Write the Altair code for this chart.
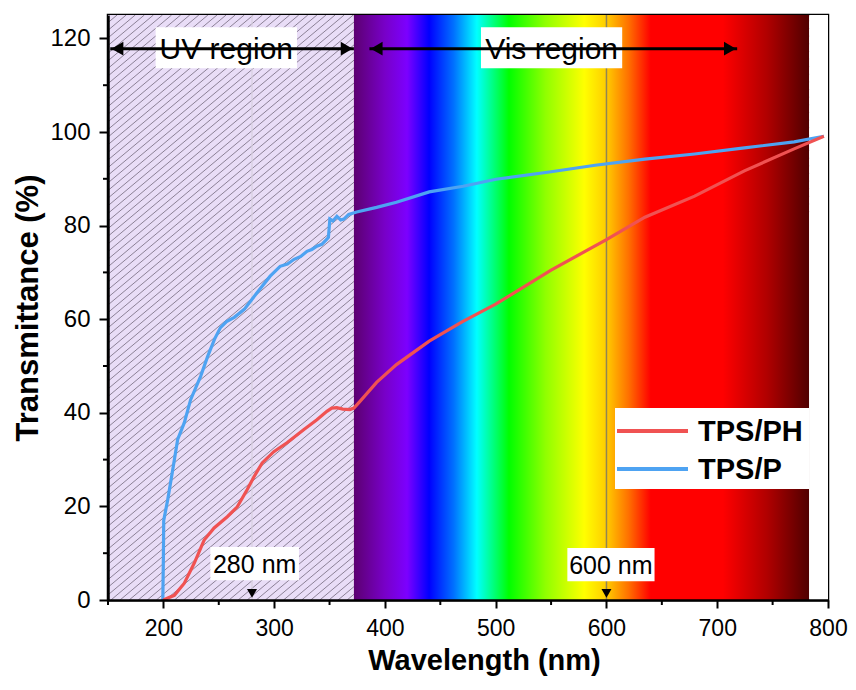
import altair as alt
import pandas as pd
import numpy as np

# ---------------- data ----------------
wl_tpsp = [199.5, 200.0, 200.3, 203.9, 208.4, 212.9, 218.9, 224.6, 233.6, 239.9, 246.1, 251.5, 257.0,
           264.0, 273.0, 284.7, 296.4, 305.4, 312.0, 318.0, 324.0, 329.6, 334.0, 338.6, 343.0, 347.6,
           349.0, 350.3, 353.0, 356.6, 360.0, 362.9, 367.3, 374.5, 392.5, 410.4, 440.0, 470.6, 500.2,
           550.0, 589.8, 634.7, 679.6, 724.5, 769.4, 796.3]
tr_tpsp = [0.0, 9.0, 17.0, 21.4, 27.8, 34.3, 37.9, 42.8, 47.8, 52.0, 55.7, 58.2, 59.5,
           60.4, 62.1, 65.7, 69.2, 71.3, 71.8, 72.8, 73.4, 74.5, 74.9, 75.6, 76.0, 77.1,
           77.5, 81.4, 81.0, 82.0, 81.2, 81.4, 82.4, 82.9, 83.9, 85.0, 87.2, 88.4, 89.9,
           91.5, 92.9, 94.2, 95.3, 96.6, 97.9, 99.1]

wl_tpsph = [200.0, 203.0, 209.9, 218.9, 227.9, 236.8, 245.8, 257.7, 266.7, 275.7, 281.7, 289.2,
            299.7, 311.6, 326.6, 338.6, 347.6, 352.0, 356.6, 362.0, 368.3, 372.0, 377.3, 392.5,
            410.4, 440.0, 470.0, 500.0, 550.0, 600.0, 634.7, 679.6, 724.5, 769.4, 796.3]
tr_tpsph = [0.0, 0.3, 1.0, 3.6, 7.9, 12.8, 15.4, 17.8, 19.9, 23.6, 26.3, 29.3,
            31.7, 33.6, 36.4, 38.5, 40.3, 41.0, 41.1, 40.8, 40.7, 41.0, 42.4, 46.5,
            50.3, 55.3, 59.5, 63.2, 70.5, 77.0, 81.8, 86.3, 91.7, 96.4, 99.1]

series_names = ["TPS/PH", "TPS/P"]
series_colors = ["#f05252", "#4ea3f2"]

x_ticks_major = [200, 300, 400, 500, 600, 700, 800]
x_ticks_minor = [150, 250, 350, 450, 550, 650, 750]
y_ticks_major = [0, 20, 40, 60, 80, 100, 120]
y_ticks_minor = [10, 30, 50, 70, 90, 110]

uv_range = [150, 372]
vis_range = [372, 783]

spectrum_wl = [372, 400, 420, 440, 462, 483, 505, 512, 545, 580, 600, 620, 640, 705, 745, 783]
spectrum_col = ["#5c0070", "#7800c8", "#7c00ff", "#0000ff", "#0070ff", "#00ffff", "#00ff40",
                "#00ff00", "#90ff00", "#ffff00", "#ffcc00", "#ff7000", "#ff0000", "#ff0000",
                "#b00000", "#500000"]

region_labels = ["UV region", "Vis region"]
region_label_x = [256.8, 550.5]
region_box_x = [193.0, 486.7]
region_box_x2 = [320.6, 614.2]
region_arrow_from = [152.0, 386.0]
region_arrow_to = [372.0, 718.0]
region_y = 117.8

marker_wl = [280, 600]
marker_labels = ["280 nm", "600 nm"]
marker_label_x = [282.4, 604.0]
marker_box_x = [242.4, 564.7]
marker_box_x2 = [322.4, 643.4]

# ---------------- layout ----------------
W, H = 720, 585
XD = [150, 800]
YD = [0, 125]
FONT = "Liberation Sans"

xs = alt.Scale(domain=XD, nice=False, zero=False)
ys = alt.Scale(domain=YD, nice=False, zero=False)

x_axis = alt.Axis(values=x_ticks_major, title="Wavelength (nm)", grid=False, zindex=1,
                  tickSize=8, tickWidth=2, tickColor="black", domainColor="black", domainWidth=2.5,
                  labelFont=FONT, labelFontSize=23, labelColor="black", labelPadding=9,
                  labelFlush=False, labelOverlap=False,
                  titleFont=FONT, titleFontSize=29, titleFontWeight="bold", titleColor="black",
                  titleX=376, titleY=60, titleAlign="center", titleBaseline="middle")
y_axis = alt.Axis(values=y_ticks_major, title="Transmittance (%)", grid=False, zindex=1,
                  tickSize=9, tickWidth=2, tickColor="black", domainColor="black", domainWidth=2.5,
                  labelFont=FONT, labelFontSize=24, labelColor="black", labelPadding=9,
                  labelFlush=False, labelOverlap=False,
                  titleFont=FONT, titleFontSize=31, titleFontWeight="bold", titleColor="black",
                  titleX=-80, titleY=H / 2, titleAngle=270, titleAlign="center", titleBaseline="middle")


def xe(field):
    return alt.X(field, type="quantitative", scale=xs, axis=x_axis)


def ye(field):
    return alt.Y(field, type="quantitative", scale=ys, axis=y_axis)


# UV background
uv_df = pd.DataFrame({"x": [uv_range[0]], "x2": [uv_range[1]], "y": [YD[0]], "y2": [YD[1]]})
uv_bg = alt.Chart(uv_df).mark_rect(color="#e9ddf7").encode(
    x=xe("x"), x2="x2:Q", y=ye("y"), y2="y2:Q")

# hatching (decorative)
slope = 0.84
dx_nm = (H / slope) / (W / (XD[1] - XD[0]))
starts = np.arange(uv_range[0] - dx_nm, uv_range[1], 8.2)
hatch_df = pd.DataFrame({"x": starts, "x2": starts + dx_nm, "y": YD[0], "y2": YD[1]})
hatch = alt.Chart(hatch_df).mark_rule(color="#8c8196", strokeWidth=1, clip=True).encode(
    x=xe("x"), x2="x2:Q", y=ye("y"), y2="y2:Q")

# spectrum
span = vis_range[1] - vis_range[0]
grad = {"gradient": "linear", "x1": 0, "x2": 1, "y1": 0, "y2": 0,
        "stops": [{"offset": (w - vis_range[0]) / span, "color": c}
                  for w, c in zip(spectrum_wl, spectrum_col)]}
spec_df = pd.DataFrame({"x": [vis_range[0]], "x2": [vis_range[1]], "y": [YD[0]], "y2": [YD[1]]})
spec = alt.Chart(spec_df).mark_rect(fill=grad).encode(
    x=xe("x"), x2="x2:Q", y=ye("y"), y2="y2:Q")

white_df = pd.DataFrame({"x": [vis_range[1]], "x2": [XD[1]], "y": [YD[0]], "y2": [YD[1]]})
white = alt.Chart(white_df).mark_rect(color="white").encode(
    x=xe("x"), x2="x2:Q", y=ye("y"), y2="y2:Q")

# vertical marker lines
v280 = alt.Chart(pd.DataFrame({"x": [marker_wl[0]]})).mark_rule(
    color="#d8d0e0", strokeWidth=1.2).encode(x=xe("x"))
v600 = alt.Chart(pd.DataFrame({"x": [marker_wl[1]]})).mark_rule(
    color="#6e6e6e", strokeWidth=1.5, opacity=0.75).encode(x=xe("x"))

# arrows
arr_df = pd.DataFrame({"x": region_arrow_from, "x2": region_arrow_to, "y": [region_y] * 2})
arrows = alt.Chart(arr_df).mark_rule(color="black", strokeWidth=3).encode(
    x=xe("x"), x2="x2:Q", y=ye("y"))
head_l = alt.Chart(pd.DataFrame({"x": [a + 6.5 for a in region_arrow_from], "y": [region_y] * 2})).mark_point(
    shape="triangle-left", filled=True, color="black", size=190, opacity=1).encode(x=xe("x"), y=ye("y"))
head_r = alt.Chart(pd.DataFrame({"x": [a - 6.5 for a in region_arrow_to], "y": [region_y] * 2})).mark_point(
    shape="triangle-right", filled=True, color="black", size=190, opacity=1).encode(x=xe("x"), y=ye("y"))

# label boxes
box_df = pd.DataFrame({
    "x": region_box_x + marker_box_x,
    "x2": region_box_x2 + marker_box_x2,
    "y": [113.6, 113.6, 4.2, 4.0],
    "y2": [122.4, 122.4, 11.3, 11.1],
})
boxes = alt.Chart(box_df).mark_rect(color="white").encode(
    x=xe("x"), x2="x2:Q", y=ye("y"), y2="y2:Q")

reg_txt = alt.Chart(pd.DataFrame({"x": region_label_x, "y": [region_y] * 2, "t": region_labels})).mark_text(
    font=FONT, fontSize=30, color="black", baseline="middle", align="center", dy=1).encode(
    x=xe("x"), y=ye("y"), text="t:N")
mk_txt = alt.Chart(pd.DataFrame({"x": marker_label_x, "y": [7.6, 7.5], "t": marker_labels})).mark_text(
    font=FONT, fontSize=25, color="black", baseline="middle", align="center", dy=1).encode(
    x=xe("x"), y=ye("y"), text="t:N")

tri = alt.Chart(pd.DataFrame({"x": marker_wl, "y": [1.4, 1.4]})).mark_point(
    shape="triangle-down", filled=True, color="black", size=100, opacity=1).encode(x=xe("x"), y=ye("y"))

# curves
blue_df = pd.DataFrame({"x": wl_tpsp, "y": tr_tpsp})
red_df = pd.DataFrame({"x": wl_tpsph, "y": tr_tpsph})
blue = alt.Chart(blue_df).mark_line(color=series_colors[1], strokeWidth=3.2).encode(
    x=xe("x"), y=ye("y"))
red = alt.Chart(red_df).mark_line(color=series_colors[0], strokeWidth=3.2).encode(
    x=xe("x"), y=ye("y"))

# minor ticks
xminor = alt.Chart(pd.DataFrame({"x": x_ticks_minor})).mark_rule(color="black", strokeWidth=2).encode(
    x=xe("x"), y=alt.value(H), y2=alt.value(H + 5))
yminor = alt.Chart(pd.DataFrame({"y": y_ticks_minor})).mark_rule(color="black", strokeWidth=2).encode(
    y=ye("y"), x=alt.value(0), x2=alt.value(-5))

# legend (manual)
leg_box = alt.Chart(pd.DataFrame({"a": [0]})).mark_rect(color="white").encode(
    x=alt.value(507), x2=alt.value(701), y=alt.value(393), y2=alt.value(474))
leg_layers = [leg_box]
for i, (nm, col) in enumerate(zip(series_names, series_colors)):
    yy = 416 + 38 * i
    leg_layers.append(alt.Chart(pd.DataFrame({"a": [0]})).mark_rule(color=col, strokeWidth=4).encode(
        x=alt.value(509), x2=alt.value(580), y=alt.value(yy)))
    leg_layers.append(alt.Chart(pd.DataFrame({"a": [nm]})).mark_text(
        font=FONT, fontSize=29, fontWeight="bold", color="black", align="left", baseline="middle", dy=1).encode(
        x=alt.value(590), y=alt.value(yy), text="a:N"))

chart = alt.layer(
    uv_bg, hatch, spec, white, v280, v600, boxes, reg_txt, mk_txt, arrows, head_l, head_r, tri,
    blue, red, xminor, yminor, *leg_layers
).properties(
    width=W, height=H,
    padding={"left": 100, "top": 7, "right": 20, "bottom": 78},
    autosize=alt.AutoSizeParams(type="none"),
).configure_view(stroke="black", strokeWidth=2.5)

chart.save("out.html", embed_options={"renderer": "svg", "actions": False})
